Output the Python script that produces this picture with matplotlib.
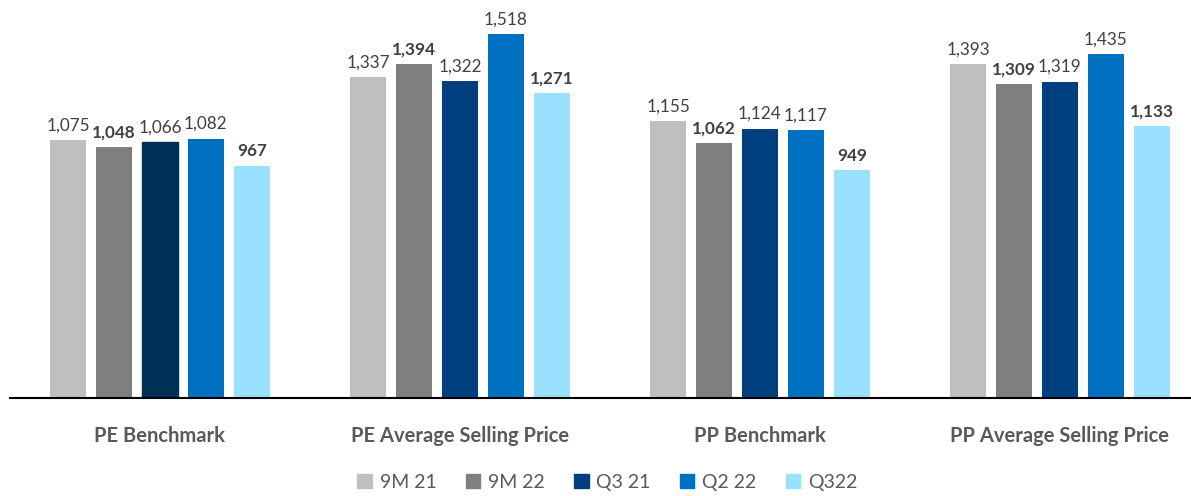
import matplotlib.pyplot as plt
from matplotlib.patches import Patch
import numpy as np

plt.rcParams['font.family'] = ['Lato', 'DejaVu Sans']

categories = ['PE Benchmark', 'PE Average Selling Price', 'PP Benchmark', 'PP Average Selling Price']
series = ['9M 21', '9M 22', 'Q3 21', 'Q2 22', 'Q322']
values = {
    '9M 21': [1075, 1337, 1155, 1393],
    '9M 22': [1048, 1394, 1062, 1309],
    'Q3 21': [1066, 1322, 1124, 1319],
    'Q2 22': [1082, 1518, 1117, 1435],
    'Q322': [967, 1271, 949, 1133],
}
colors = ['#BFBFBF', '#7F7F7F', '#003F7D', '#0070C0', '#99E1FF']
bold_series = ['9M 22', 'Q322']

fig = plt.figure(figsize=(11.91, 4.96), dpi=100)
ax = fig.add_axes([10 / 1191, 98 / 496, 1 - 10 / 1191, 398 / 496])

x = np.arange(len(categories))
step = 0.153
width = 0.12
for i, s in enumerate(series):
    pos = x + (i - 2) * step
    bars = ax.bar(pos, values[s], width, color=colors[i])
    if s == 'Q3 21':
        bars[0].set_color('#002F56')
    for xp, v in zip(pos, values[s]):
        ax.text(xp, v + 28, f'{v:,}', ha='center', va='bottom', fontsize=12.3,
                color='#404040', fontweight='bold' if s in bold_series else 'normal')

ax.set_xlim(-0.5, 3.437)
ax.set_ylim(0, 1660)
ax.set_yticks([])
ax.set_xticks(x)
ax.set_xticklabels(categories, fontsize=14.5, fontweight='bold', color='#595959')
ax.tick_params(axis='x', length=0, pad=20)
for side in ['top', 'right', 'left']:
    ax.spines[side].set_visible(False)
ax.spines['bottom'].set_color('#000000')
ax.spines['bottom'].set_linewidth(1.5)

handles = [Patch(color=c, label=s) for s, c in zip(series, colors)]
fig.legend(handles=handles, loc='lower center', bbox_to_anchor=(0.51, -0.025), ncol=5,
           frameon=False, fontsize=14, handlelength=0.75, handleheight=0.75,
           columnspacing=1.5, handletextpad=0.4, labelcolor='#595959')

fig.savefig('out.png', dpi=100)
